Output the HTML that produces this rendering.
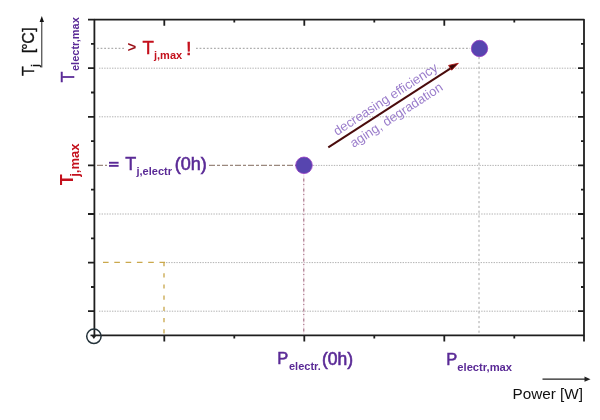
<!DOCTYPE html>
<html><head><meta charset="utf-8">
<style>
html,body{margin:0;padding:0;background:#fff;}
body{width:600px;height:420px;overflow:hidden;}
svg{display:block;font-family:"Liberation Sans",sans-serif;filter:blur(0.35px);}
</style></head>
<body>
<svg width="600" height="420" viewBox="0 0 600 420">
<rect width="600" height="420" fill="#fff"/>
<!-- grid lines -->
<g stroke="#b2b2b2" stroke-width="1" fill="none" stroke-dasharray="1.4 1.2">
<line x1="99" y1="68.2" x2="577" y2="68.2"/>
<line x1="99" y1="116.8" x2="577" y2="116.8"/>
<line x1="313" y1="165.4" x2="577" y2="165.4"/>
<line x1="99" y1="214" x2="577" y2="214"/>
<line x1="166" y1="262.6" x2="577" y2="262.6"/>
<line x1="99" y1="311.2" x2="577" y2="311.2"/>
</g>
<line x1="479" y1="57" x2="479" y2="334" stroke="#a8a8a8" stroke-width="1" stroke-dasharray="2.2 2.6"/>
<!-- Tj,max line -->
<g stroke="#9a9a9a" stroke-width="1" fill="none" stroke-dasharray="1.8 1.8">
<line x1="97" y1="48.3" x2="124" y2="48.3"/>
<line x1="196" y1="48.3" x2="470" y2="48.3"/>
</g>
<!-- Tj electr line -->
<g stroke="#9a887e" stroke-width="1.1" fill="none" stroke-dasharray="6 2 3 2">
<line x1="97" y1="165.4" x2="107" y2="165.4"/>
<line x1="209" y1="165.4" x2="296" y2="165.4"/>
</g>
<line x1="303.8" y1="174" x2="303.8" y2="334" stroke="#f0dde6" stroke-width="1"/>
<line x1="303.8" y1="178.5" x2="303.8" y2="334" stroke="#9a6478" stroke-width="1" stroke-dasharray="3 2.5 1 3.5"/>
<!-- orange -->
<line x1="103" y1="262.4" x2="166" y2="262.4" stroke="#caa84c" stroke-width="1.3" stroke-dasharray="5.6 5.7"/>
<line x1="164" y1="262" x2="164" y2="334" stroke="#c8a64a" stroke-width="1.3" stroke-dasharray="4.2 7"/>
<!-- frame -->
<rect x="94.4" y="19.6" width="489.6" height="315.8" fill="none" stroke="#1e1e1e" stroke-width="1.8" stroke-linejoin="round"/>
<!-- ticks -->
<g stroke="#1e1e1e" stroke-width="1.8" fill="none">
<path d="M88 19.6H94.4 M91 43.9H94.4 M88 68.2H94.4 M91 92.5H94.4 M88 116.8H94.4 M91 141.1H94.4 M88 165.4H94.4 M91 189.7H94.4 M88 214H94.4 M91 238.3H94.4 M88 262.6H94.4 M91 287H94.4 M88 311.2H94.4"/>
<path d="M581 43.9H584 M578 68.2H584 M581 92.5H584 M578 116.8H584 M581 141.1H584 M578 165.4H584 M581 189.7H584 M578 214H584 M581 238.3H584 M578 262.6H584 M581 287H584 M578 311.2H584"/>
<path d="M164.3 19.6V25.8 M234.3 19.6V22.6 M304.3 19.6V25.8 M374.3 19.6V22.6 M444.3 19.6V25.8 M514.3 19.6V22.6"/>
<path d="M164.3 335.4V341.5 M234.3 335.4V338.4 M304.3 335.4V341.5 M374.3 335.4V338.4 M444.3 335.4V341.5 M514.3 335.4V338.4 M584 335.4V341.5"/>
</g>
<!-- origin circle -->
<circle cx="93.9" cy="336.3" r="7.2" fill="none" stroke="#24323a" stroke-width="1.5"/>
<path d="M91.3 335.2 L96.5 335.2 L93.9 339 Z" fill="#1e1e1e"/>
<line x1="90.5" y1="335.4" x2="95" y2="335.4" stroke="#1e1e1e" stroke-width="1.6"/>
<!-- dots -->
<circle cx="304" cy="165.3" r="8.3" fill="#5745af" stroke="#9b3cc4" stroke-width="0.8"/>
<circle cx="479.5" cy="48.5" r="8.2" fill="#5745af" stroke="#9b3cc4" stroke-width="0.8"/>
<!-- arrow -->
<line x1="328.3" y1="147.3" x2="451" y2="68.2" stroke="#4a0c0c" stroke-width="2"/>
<path d="M458.3 63.3 L448.6 65.4 L451.6 70.2 Z" fill="#3a0808" stroke="#b01515" stroke-width="0.9" stroke-linejoin="round"/>
<!-- diagonal text -->
<g fill="#9a7ccb" font-size="13">
<text transform="translate(337,136) rotate(-33)">decreasing efficiency</text>
<text transform="translate(353.5,148) rotate(-33)">aging, degradation</text>
</g>
<!-- > Tj,max ! -->
<g fill="#c4101c">
<text x="127.5" y="52" font-size="15" font-weight="bold" fill="#9a0e16">&gt;</text>
<text x="142.6" y="54.4" font-size="18.5" stroke="#c4101c" stroke-width="0.5">T</text>
<text x="154" y="58.7" font-size="11" font-weight="bold">j,max</text>
<text x="186.2" y="54.5" font-size="18" stroke="#c4101c" stroke-width="0.7">!</text>
</g>
<!-- = Tj,electr (0h) -->
<g fill="#5a2a96">
<rect x="109" y="161.8" width="9.6" height="1.9"/><rect x="109" y="164.9" width="9.6" height="1.9"/>
<text x="125.3" y="170.2" font-size="18" stroke="#5a2a96" stroke-width="0.45">T</text>
<text x="136.5" y="175" font-size="11" font-weight="bold">j,electr</text>
<text x="174.8" y="169.6" font-size="18" stroke="#5a2a96" stroke-width="0.6">(0h)</text>
</g>
<!-- P labels -->
<g fill="#5a2a96">
<text x="277.3" y="364.2" font-size="16.5" stroke="#5a2a96" stroke-width="0.5">P</text>
<text x="289" y="370" font-size="11" font-weight="bold">electr.</text>
<text x="322" y="364.5" font-size="17.5" stroke="#5a2a96" stroke-width="0.6">(0h)</text>
<text x="446.2" y="365" font-size="16.5" stroke="#5a2a96" stroke-width="0.5">P</text>
<text x="457.3" y="370.8" font-size="11.2" font-weight="bold">electr,max</text>
</g>
<!-- Power [W] -->
<text x="512.5" y="398.5" font-size="15.3" fill="#111">Power [W]</text>
<line x1="542.5" y1="379.2" x2="586" y2="379.2" stroke="#222" stroke-width="1.2"/>
<path d="M590.5 379.2 L584.5 376.6 L584.5 381.8 Z" fill="#222"/>
<!-- Tj [°C] -->
<g transform="rotate(-90)" fill="#111" stroke="#111" stroke-width="0.35" font-size="16" text-anchor="middle">
<text x="-71" y="33.6">T</text>
<text x="-65.6" y="39.3" font-size="11">j</text>
<text x="-51.1" y="33.6">[</text>
<text x="-46.5" y="33.6">°</text>
<text x="-37.9" y="33.6">C</text>
<text x="-29.6" y="33.6">]</text>
</g>
<line x1="41.8" y1="67.5" x2="41.8" y2="21" stroke="#222" stroke-width="1"/>
<path d="M41.8 16 L39.6 22 L44 22 Z" fill="#111"/>
<!-- T electr,max rotated -->
<g transform="rotate(-90)" fill="#5a2a96">
<text x="-82.5" y="73.9" font-size="18" stroke="#5a2a96" stroke-width="0.5">T</text>
<text x="-71" y="79" font-size="11" font-weight="bold">electr,max</text>
</g>
<!-- Tj,max red rotated -->
<g transform="translate(72.9,185.2) rotate(-90)" fill="#c4101c">
<text x="0" y="0" font-size="18" font-weight="bold">T</text>
<text x="8.4" y="5.6" font-size="13" font-weight="bold">j,max</text>
</g>
</svg>
</body></html>
